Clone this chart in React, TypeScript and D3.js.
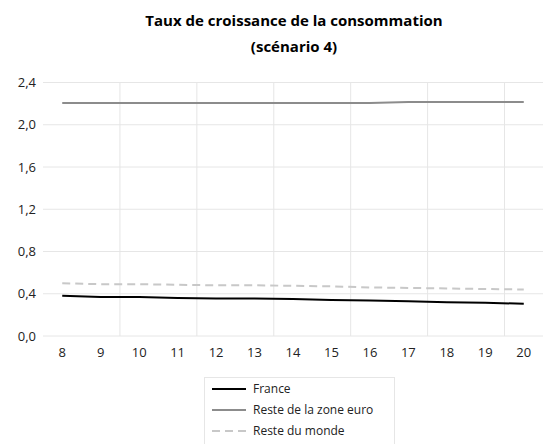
import React from "react";
import * as d3 from "d3";

const years = [8, 9, 10, 11, 12, 13, 14, 15, 16, 17, 18, 19, 20];
const france = [0.38, 0.37, 0.37, 0.36, 0.355, 0.355, 0.35, 0.34, 0.335, 0.33, 0.32, 0.315, 0.305];
const zoneEuro = [2.205, 2.205, 2.205, 2.205, 2.205, 2.205, 2.205, 2.205, 2.205, 2.215, 2.215, 2.215, 2.215];
const resteMonde = [0.5, 0.49, 0.49, 0.485, 0.48, 0.48, 0.475, 0.47, 0.46, 0.455, 0.45, 0.445, 0.44];
const yTicks = [0, 0.4, 0.8, 1.2, 1.6, 2.0, 2.4];
const seriesNames = ["France", "Reste de la zone euro", "Reste du monde"];

const W = 543;
const H = 444;
const font = "'Open Sans', 'Liberation Sans', sans-serif";

export default function App() {
  const x = d3.scaleBand<number>().domain(years).range([43, 543]).paddingInner(0).paddingOuter(0);
  const y = d3.scaleLinear().domain([0, 2.4]).range([336, 82.5]);
  const cx = (d: number) => (x(d) as number) + x.bandwidth() / 2;
  const fmt = (v: number) => v.toFixed(1).replace(".", ",");

  const series = [
    { name: seriesNames[0], values: france, color: "#000000", dash: "" },
    { name: seriesNames[1], values: zoneEuro, color: "#8c8c8c", dash: "" },
    { name: seriesNames[2], values: resteMonde, color: "#c8c8c8", dash: "8,5" },
  ];

  const line = d3
    .line<number>()
    .x((_, i) => cx(years[i]))
    .y((v) => y(v));

  const vGrid = years.filter((_, i) => i % 2 === 1 && i < years.length - 1).map((d) => (x(d) as number) + x.bandwidth());

  return (
    <svg width={W} height={H} style={{ position: "absolute", left: 0, top: 0, background: "#fff" }}>
      <rect width={W} height={H} fill="#fff" />
      <text x={294} y={26} textAnchor="middle" fontFamily={font} fontWeight="bold" fontSize={15} fill="#000">
        Taux de croissance de la consommation
      </text>
      <text x={294} y={52} textAnchor="middle" fontFamily={font} fontWeight="bold" fontSize={15} fill="#000">
        (scénario 4)
      </text>
      {yTicks.map((t) => (
        <g key={t}>
          <line x1={43} x2={543} y1={y(t)} y2={y(t)} stroke="#e6e6e6" strokeWidth={1} />
          <text x={36} y={y(t)} dy="0.35em" textAnchor="end" fontFamily={font} fontSize={13} fill="#222">
            {fmt(t)}
          </text>
        </g>
      ))}
      {vGrid.map((gx) => (
        <line key={gx} x1={gx} x2={gx} y1={y(2.4)} y2={y(0)} stroke="#e6e6e6" strokeWidth={1} />
      ))}
      {years.map((d) => (
        <text key={d} x={cx(d)} y={352} dy="0.35em" textAnchor="middle" fontFamily={font} fontSize={13} fill="#222">
          {d}
        </text>
      ))}
      {series.map((s) => (
        <path
          key={s.name}
          d={line(s.values) || ""}
          fill="none"
          stroke={s.color}
          strokeWidth={2}
          strokeDasharray={s.dash || undefined}
        />
      ))}
      <rect x={204.5} y={377.5} width={190} height={70} fill="none" stroke="#e6e6e6" />
      {series.map((s, i) => (
        <g key={s.name}>
          <line x1={212} x2={246} y1={389 + i * 21} y2={389 + i * 21} stroke={s.color} strokeWidth={2} strokeDasharray={s.dash || undefined} />
          <text x={253} y={389 + i * 21} dy="0.35em" fontFamily={font} fontSize={12} fill="#222">
            {s.name}
          </text>
        </g>
      ))}
    </svg>
  );
}
